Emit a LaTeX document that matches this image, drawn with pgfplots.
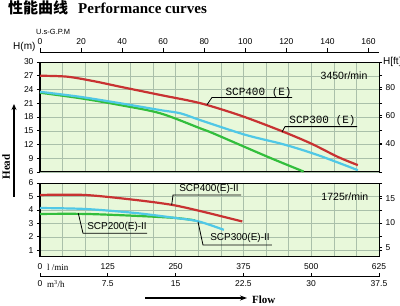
\documentclass[border=0pt]{standalone}
\usepackage{pgfplots}
\pgfplotsset{compat=1.18}
\usepackage{fontspec}
\setmainfont{Liberation Sans}
\newfontfamily\serif{Liberation Serif}
\newfontfamily\mono{Liberation Mono}
\newfontfamily\cjk{Noto Sans CJK SC}
\usetikzlibrary{arrows.meta}
\definecolor{bg}{RGB}{232,248,218}
\definecolor{gridc}{RGB}{170,192,170}
\definecolor{cred}{RGB}{200,50,50}
\definecolor{ccyan}{RGB}{80,200,230}
\definecolor{cgreen}{RGB}{50,190,60}
\pgfplotsset{
  panel/.style={scale only axis, width=339pt, xmin=0, xmax=625,
    axis background/.style={fill=bg},
    xtick={0,125,...,625}, minor x tick num=2,
    grid=both, major grid style={gridc, line width=0.5pt}, minor grid style={gridc, line width=0.5pt},
    axis line style={black, line width=1pt},
    xtick style={draw=none}, ytick style={black, line width=0.8pt},
    tick align=outside, major tick length=3pt, minor tick length=0pt,
    ticklabel style={font=\fontsize{8.5}{9}\selectfont},
    /pgf/number format/assume math mode=true,
    clip=false},
  rpanel/.style={scale only axis, width=339pt, xmin=0, xmax=1,
    axis x line=none, axis y line*=right,
    axis line style={black, line width=1pt},
    ytick style={black, line width=0.8pt},
    tick align=outside, major tick length=3pt,
    ticklabel style={font=\fontsize{8.5}{9}\selectfont},
    /pgf/number format/assume math mode=true},
  curve/.style={line width=2.2pt, smooth},
}
\tikzset{
  lbl/.style={font=\mono\fontsize{11}{11}\selectfont, inner sep=0pt},
  lbls/.style={font=\fontsize{10}{10}\selectfont, inner sep=0pt},
}
\begin{document}
\begin{tikzpicture}[x=1pt,y=1pt]
\useasboundingbox (0,0) rectangle (400,306);

% title
\node[anchor=west, inner sep=0pt] at (8,298) {{\cjk\bfseries\fontsize{15}{15}\selectfont 性能曲线}\hspace{10pt}{\serif\bfseries\fontsize{15}{15}\selectfont Performance curves}};

% GPM axis
\begin{axis}[at={(40pt,252pt)}, anchor=south west, scale only axis, width=339pt, height=1pt,
  xmin=0, xmax=165.13, ymin=0, ymax=1, hide y axis, axis x line*=top,
  xtick={0,20,...,160}, tick align=outside, major tick length=5pt,
  axis line style={black, line width=1pt}, tick style={black, line width=0.8pt},
  ticklabel style={font=\fontsize{8.5}{9}\selectfont},
  /pgf/number format/assume math mode=true]
\end{axis}
\node[anchor=west, inner sep=0pt, font=\fontsize{7.5}{8}\selectfont] at (36,274) {U.s-G.P.M};
\node[anchor=west, inner sep=0pt, font=\fontsize{10}{10}\selectfont] at (13,259) {H(m)};
\node[anchor=west, inner sep=0pt, font=\fontsize{10}{10}\selectfont] at (383,244) {H[ft]};

% upper panel (3450 r/min)
\begin{axis}[panel, at={(40pt,134pt)}, anchor=south west, height=110pt,
  ymin=6, ymax=30, ytick={6,9,...,30}, xticklabels={}]
\addplot[curve, cgreen] coordinates {(0,23.3) (74,22.1) (148,20.6) (222,18.8) (296,15.5) (320,14.4) (420,9.3) (486,6.1)};
\addplot[curve, ccyan] coordinates {(0,23.5) (74,22.4) (148,21.0) (222,19.5) (259,18.8) (296,17.3) (379,14.1) (450,12.0) (512,9.7) (586,6.4)};
\addplot[curve, cred] coordinates {(0,27.0) (50,26.8) (100,25.8) (148,24.6) (222,22.8) (296,21.0) (370,18.3) (444,15.0) (500,12.2) (549,9.3) (586,7.5)};
\node[lbl] at (axis cs:403,23.4) {SCP400 (E)};
\draw[black, line width=0.8pt] (axis cs:464.6,22.25) -- (axis cs:317,22.25) -- (axis cs:308,20.7);
\node[lbl] at (axis cs:520.8,17.1) {SCP300 (E)};
\draw[black, line width=0.8pt] (axis cs:584.5,15.9) -- (axis cs:451.7,15.9) -- (axis cs:446,14.7);
\node[lbls, font=\fontsize{10.5}{10.5}\selectfont] at (axis cs:560.5,26.95) {3450r/min};
\end{axis}
\begin{axis}[rpanel, at={(40pt,134pt)}, anchor=south west, height=110pt,
  ymin=19.685, ymax=98.425, ytick={40,60,80}]
\end{axis}

% lower panel (1725 r/min)
\begin{axis}[panel, at={(40pt,49pt)}, anchor=south west, height=74pt,
  ymin=0.5, ymax=6, ytick={1,...,6}, xticklabels={0,125,250,375,500,625}]
\addplot[curve, cgreen] coordinates {(0,3.70) (83,3.70) (176,3.56) (250,3.40) (286,3.22)};
\addplot[curve, ccyan] coordinates {(0,4.14) (83,4.07) (176,3.77) (250,3.40) (292,3.15) (339,2.52)};
\addplot[curve, cred] coordinates {(0,5.11) (83,5.11) (176,4.74) (244,4.37) (299,3.88) (373,3.14)};
\node[lbls] at (axis cs:311.6,5.55) {SCP400(E)-II};
\draw[black, line width=0.8pt] (axis cs:370.6,5.11) -- (axis cs:245.2,5.11) -- (axis cs:242.8,4.36);
\node[lbls] at (axis cs:142,2.73) {SCP200(E)-II};
\draw[black, line width=0.8pt] (axis cs:197.3,2.26) -- (axis cs:79.3,2.26) -- (axis cs:70.6,3.75);
\node[lbls] at (axis cs:368.7,1.91) {SCP300(E)-II};
\draw[black, line width=0.8pt] (axis cs:427.7,1.39) -- (axis cs:300.5,1.39) -- (axis cs:291.3,3.12);
\node[lbls, font=\fontsize{10.5}{10.5}\selectfont] at (axis cs:562,4.96) {1725r/min};
\end{axis}
\begin{axis}[rpanel, at={(40pt,49pt)}, anchor=south west, height=74pt,
  ymin=3.1, ymax=18.1, ytick={5,10,15}]
\end{axis}
\node[anchor=west, inner sep=0pt, font=\serif\fontsize{9}{9}\selectfont] at (47,39) {l /min};

% m3/h axis
\begin{axis}[at={(40pt,29pt)}, anchor=south west, scale only axis, width=339pt, height=1pt,
  xmin=0, xmax=37.5, ymin=0, ymax=1, hide y axis, axis x line*=bottom,
  xtick={0,7.5,15,22.5,30,37.5}, xticklabels={0,7.5,15,22.5,30,37.5},
  tick align=inside, major tick length=4pt,
  axis line style={black, line width=1pt}, tick style={black, line width=0.8pt},
  ticklabel style={font=\fontsize{8.5}{9}\selectfont},
  /pgf/number format/assume math mode=true]
\end{axis}
\node[anchor=west, inner sep=0pt, font=\serif\fontsize{9}{9}\selectfont] at (47,22) {m\textsuperscript{3}/h};

% Head / Flow
\node[rotate=90, inner sep=0pt, font=\serif\bfseries\fontsize{11}{11}\selectfont] at (6,139) {Head};
\draw[line width=1.2pt, -{Stealth[length=6pt,width=5pt]}] (14,109) -- (14,202);
\draw[line width=1.5pt, -{Stealth[length=7pt,width=5pt]}] (145,8) -- (247,8);
\node[anchor=west, inner sep=0pt, font=\serif\bfseries\fontsize{11}{11}\selectfont] at (252,6.5) {Flow};
\end{tikzpicture}
\end{document}
